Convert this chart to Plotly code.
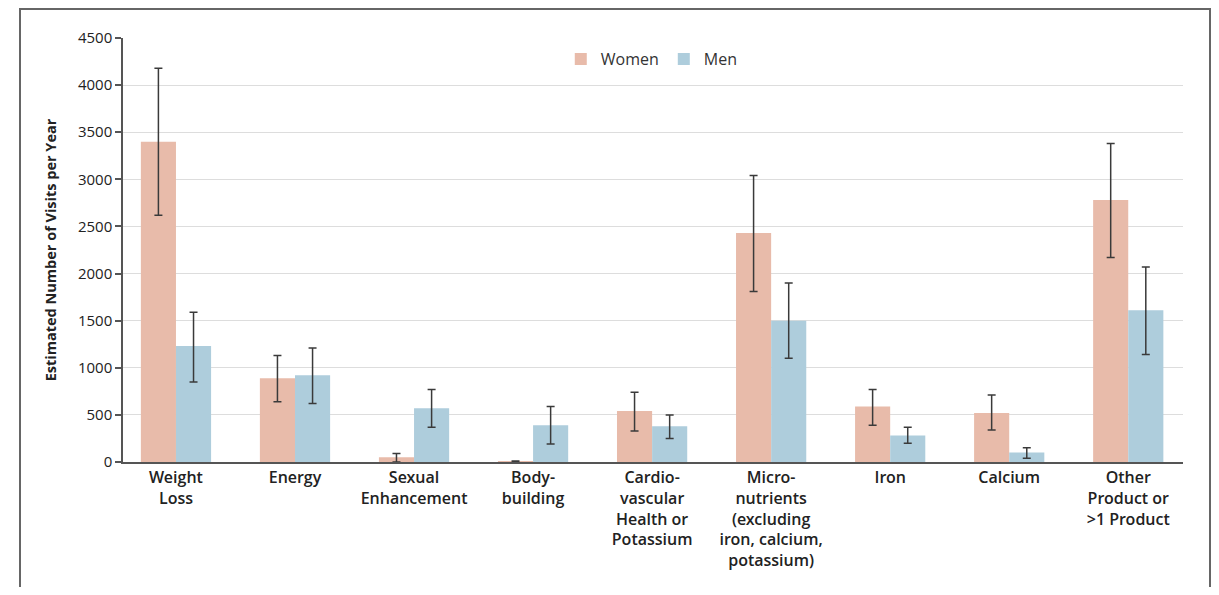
import plotly.graph_objects as go

categories = ["Weight<br>Loss", "Energy", "Sexual<br>Enhancement", "Body-<br>building",
              "Cardio-<br>vascular<br>Health or<br>Potassium",
              "Micro-<br>nutrients<br>(excluding<br>iron, calcium,<br>potassium)",
              "Iron", "Calcium", "Other<br>Product or<br>>1 Product"]
women = [3400, 890, 50, 5, 540, 2430, 590, 520, 2780]
women_hi = [4180, 1130, 90, 10, 740, 3040, 770, 710, 3380]
women_lo = [2620, 640, 0, 0, 330, 1810, 390, 340, 2170]
men = [1230, 920, 570, 390, 380, 1500, 280, 100, 1610]
men_hi = [1590, 1210, 770, 590, 500, 1900, 370, 150, 2070]
men_lo = [850, 620, 370, 190, 250, 1100, 200, 40, 1140]
yticks = [0, 500, 1000, 1500, 2000, 2500, 3000, 3500, 4000, 4500]

xs = list(range(len(categories)))

def err(vals, hi, lo):
    return dict(type="data", symmetric=False,
                array=[h - v for v, h in zip(vals, hi)],
                arrayminus=[v - l for v, l in zip(vals, lo)],
                color="#3a3a3a", thickness=1.5, width=4)

fig = go.Figure()
fig.add_trace(go.Bar(x=xs, y=women, name="Women", marker=dict(color="#E8BBAA", line=dict(width=0)),
                     error_y=err(women, women_hi, women_lo)))
fig.add_trace(go.Bar(x=xs, y=men, name="Men", marker=dict(color="#AECDDC", line=dict(width=0)),
                     error_y=err(men, men_hi, men_lo)))

W, H = 1203, 579
L, T = 115, 30
PW, PH = 1060, 424
fig.update_layout(
    width=W, height=H,
    margin=dict(l=L, r=W - L - PW, t=T, b=H - T - PH),
    paper_bgcolor="white", plot_bgcolor="white",
    barmode="group", bargap=0.41, bargroupgap=0,
    font=dict(family="Open Sans, Lato, sans-serif", color="#222"),
    legend=dict(orientation="h", x=0.413, y=0.95, xanchor="left", yanchor="middle",
                font=dict(size=16, color="#333"), bgcolor="rgba(0,0,0,0)",
                traceorder="normal"),
    showlegend=True,
)
fig.update_xaxes(
    tickmode="array", tickvals=xs, ticktext=categories,
    range=[-0.445, 8.46], showgrid=False, zeroline=False,
    showline=True, linecolor="#555", linewidth=1.5, ticks="",
    tickfont=dict(size=16, color="#222", family="Open Sans SemiBold, Open Sans, sans-serif"),
    tickangle=0,
)
fig.update_yaxes(
    range=[0, 4500], tickmode="array", tickvals=yticks,
    showgrid=True, gridcolor="#dddddd", gridwidth=1, zeroline=False,
    showline=True, linecolor="#555", linewidth=1.5,
    ticks="outside", ticklen=6, tickcolor="#555", tickwidth=1.5,
    tickfont=dict(size=15, color="#222"),
    title=dict(text="<b>Estimated Number of Visits per Year</b>", font=dict(size=14.5, color="#222"), standoff=18),
)
fig.add_shape(type="rect", xref="paper", yref="paper",
              x0=(12 - L) / PW, x1=(1202 - L) / PW,
              y0=(T + PH - 620) / PH, y1=(T + PH - 1) / PH,
              line=dict(color="#666", width=2), fillcolor="rgba(0,0,0,0)", layer="below")
fig.write_html("out.html")
